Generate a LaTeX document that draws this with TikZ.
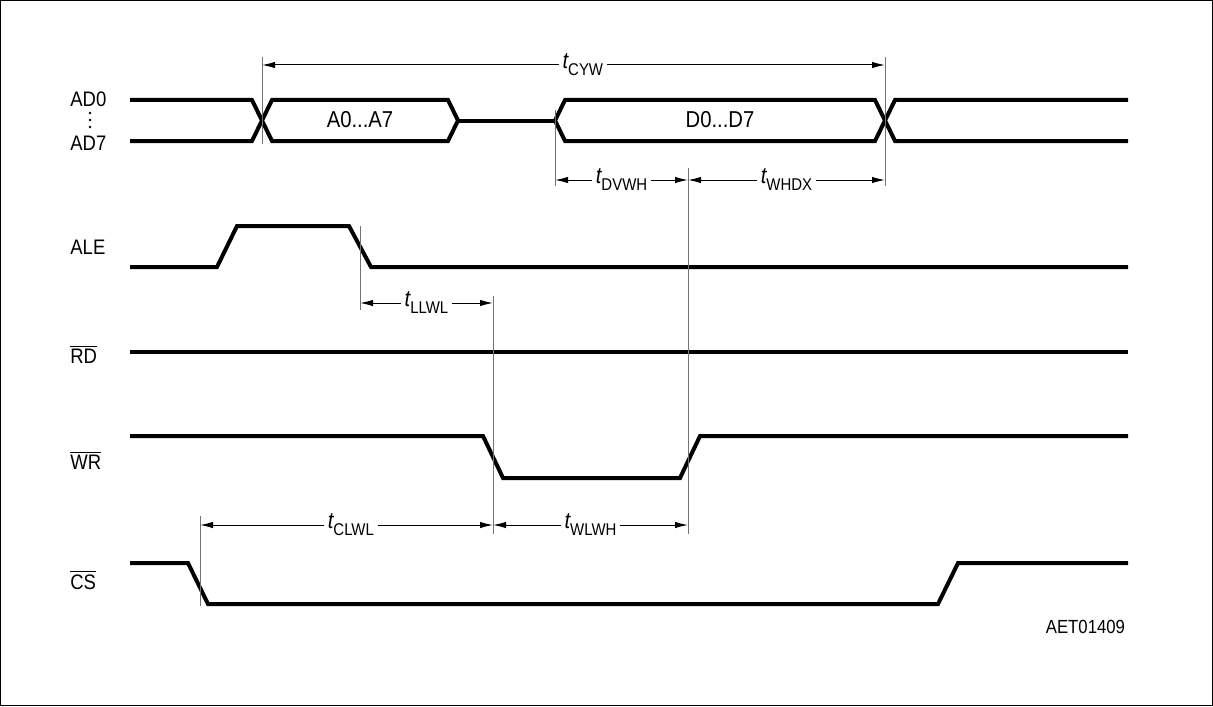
\documentclass[tikz,border=0pt]{standalone}
\usepackage{fontspec}
\setmainfont{Liberation Sans}[FakeStretch=0.88]
\usepackage{tikz}
\usetikzlibrary{arrows,arrows.meta}
\definecolor{gguide}{rgb}{0.45,0.45,0.45}
\newcommand{\tsub}[1]{{\fontsize{11.5}{12}\selectfont\itshape t}\raisebox{-3.5pt}{\fontsize{8.5}{10}\selectfont #1}}
\newcommand{\sigbar}[1]{$\overline{\mbox{#1}}$}

\begin{document}
\begin{tikzpicture}[line cap=butt,line join=miter,>={Latex[length=6.5pt,width=3.2pt]},x=0.5pt,y=-0.5pt,
  sig/.style={line width=2pt},
  guide/.style={line width=0.5pt,color=gguide},
  dim/.style={<->,line width=0.5pt},
  lbl/.style={font=\fontsize{10.5}{12}\selectfont,inner sep=0pt,anchor=west},
  buslbl/.style={font=\fontsize{11.5}{13}\selectfont},
  tlbl/.style={fill=white,inner sep=2pt}]
\useasboundingbox (0,0) rectangle (1213,706);
\draw [line width=0.6pt] (0.5,0.5) rectangle (1212.5,705.5);
% signal names
\node [lbl] (ad0) at (70,99) {AD0};
\node [lbl] (ad7) at (70,143) {AD7};
\fill (90,113) circle (1.3) (90,120) circle (1.3) (90,127) circle (1.3);
\node [lbl] (ale) at (70,247) {ALE};
\node [lbl] (rd) at (70,354) {\sigbar{RD}};
\node [lbl] (wr) at (70,460) {\sigbar{WR}};
\node [lbl] (cs) at (70,580) {\sigbar{CS}};
% bus
\draw [sig] (130,100) -- (252,100) -- (272,141) -- (448,141) -- (458,120.5) -- (448,100) -- (272,100) -- (252,141) -- (130,141);
\draw [sig] (458,120.5) -- (555,120.5);
\draw [sig] (555,120.5) -- (565,100) -- (875,100) -- (895,141) -- (1128,141);
\draw [sig] (555,120.5) -- (565,141) -- (875,141) -- (895,100) -- (1128,100);
\node [buslbl] (addr) at (360,120) {A0...A7};
\node [buslbl] (data) at (720,120) {D0...D7};
% control lines
\draw [sig] (130,267) -- (217,267) -- (237,226) -- (349,226) -- (371,267) -- (1128,267);
\draw [sig] (130,352) -- (1128,352);
\draw [sig] (130,436) -- (483,436) -- (503,478) -- (680,478) -- (700,436) -- (1128,436);
\draw [sig] (130,563) -- (188,563) -- (208,604) -- (938,604) -- (958,563) -- (1128,563);
% guide lines
\draw [guide] (262,57) -- (262,144);
\draw [guide] (885,57) -- (885,186);
\draw [guide] (555,110) -- (555,186);
\draw [guide] (688,168) -- (688,534);
\draw [guide] (360,226) -- (360,310);
\draw [guide] (493,296) -- (493,534);
\draw [guide] (200,516) -- (200,606);
% timings
\coordinate (cyw-l) at (262,65);
\coordinate (cyw-r) at (885,65);
\coordinate (dvwh-l) at (555,180);
\coordinate (dvwh-r) at (688,180);
\coordinate (whdx-r) at (885,180);
\coordinate (llwl-l) at (360,303);
\coordinate (llwl-r) at (493,303);
\coordinate (clwl-l) at (200,525);
\coordinate (clwl-r) at (493,525);
\coordinate (wlwh-r) at (688,525);
\draw [dim] (cyw-l) -- node [tlbl,pos=0.515] (tcyw) {\tsub{CYW}} (cyw-r);
\draw [dim] (dvwh-l) -- node [tlbl] (tdvwh) {\tsub{DVWH}} (dvwh-r);
\draw [dim] (dvwh-r) -- node [tlbl] (twhdx) {\tsub{WHDX}} (whdx-r);
\draw [dim] (llwl-l) -- node [tlbl] (tllwl) {\tsub{LLWL}} (llwl-r);
\draw [dim] (clwl-l) -- node [tlbl,pos=0.515] (tclwl) {\tsub{CLWL}} (clwl-r);
\draw [dim] (clwl-r) -- node [tlbl] (twlwh) {\tsub{WLWH}} (wlwh-r);
\node [font=\fontsize{9.5}{11}\selectfont,anchor=east] (fig) at (1132,627) {AET01409};
\end{tikzpicture}
\end{document}
